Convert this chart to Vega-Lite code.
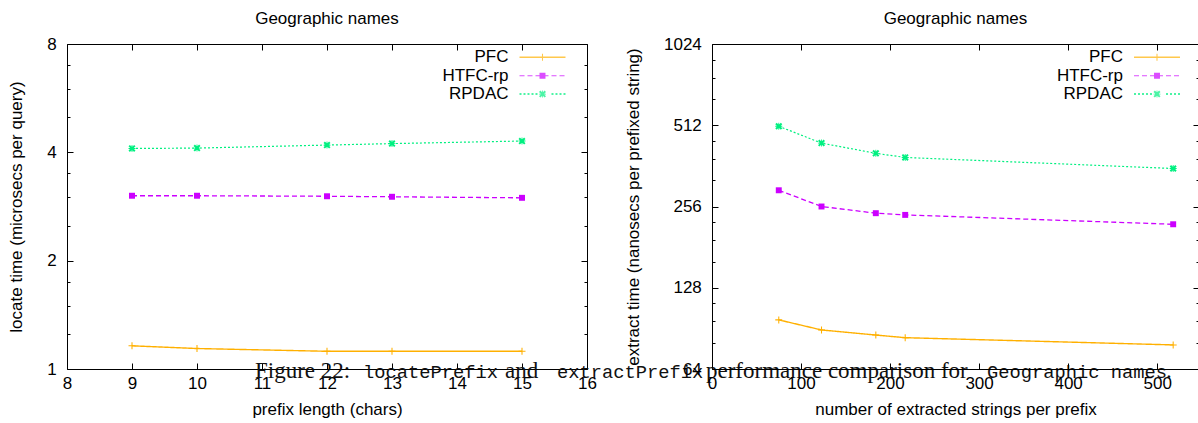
{
  "$schema": "https://vega.github.io/schema/vega-lite/v6.json",
  "padding": {"left": 7, "top": 10, "right": 0, "bottom": 0},
  "bounds": "flush",
  "spacing": 125,
  "config": {
    "font": "Liberation Sans",
    "view": {"stroke": null},
    "axis": {"grid": false, "domainColor": "black", "domainWidth": 1, "tickColor": "black", "tickWidth": 1, "labelColor": "black", "titleColor": "black", "labelFontSize": 17, "titleFontSize": 17, "titleFontWeight": "normal", "labelFont": "Liberation Sans", "titleFont": "Liberation Sans", "labelFlush": false, "labelOverlap": false, "labelBound": false},
    "legend": {"orient": "none", "title": null, "labelAlign": "right", "labelOffset": -42.5, "labelFontSize": 17, "labelFont": "Liberation Sans", "labelColor": "black", "symbolSize": 49, "symbolStrokeWidth": 0, "rowPadding": 0.4, "padding": 0},
    "title": {"fontSize": 17, "fontWeight": "normal", "font": "Liberation Sans", "color": "black", "anchor": "middle", "baseline": "alphabetic", "offset": 7}
  },
  "hconcat": [
    {
      "width": 520,
      "height": 325,
      "title": "Geographic names",
      "data": {"values": [
        {"len": 9, "series": "PFC", "time": 1.16},
        {"len": 10, "series": "PFC", "time": 1.14},
        {"len": 12, "series": "PFC", "time": 1.12},
        {"len": 13, "series": "PFC", "time": 1.12},
        {"len": 15, "series": "PFC", "time": 1.12},
        {"len": 9, "series": "HTFC-rp", "time": 3.03},
        {"len": 10, "series": "HTFC-rp", "time": 3.03},
        {"len": 12, "series": "HTFC-rp", "time": 3.02},
        {"len": 13, "series": "HTFC-rp", "time": 3.01},
        {"len": 15, "series": "HTFC-rp", "time": 2.99},
        {"len": 9, "series": "RPDAC", "time": 4.10},
        {"len": 10, "series": "RPDAC", "time": 4.11},
        {"len": 12, "series": "RPDAC", "time": 4.19},
        {"len": 13, "series": "RPDAC", "time": 4.23},
        {"len": 15, "series": "RPDAC", "time": 4.30}
      ]},
      "layer": [
        {
          "mark": {"type": "line"},
          "encoding": {
            "x": {"field": "len", "type": "quantitative", "scale": {"domain": [8, 16], "nice": false, "zero": false},
                  "axis": {"orient": "bottom", "values": [8, 9, 10, 11, 12, 13, 14, 15, 16], "title": "prefix length (chars)", "tickSize": -6, "labelPadding": 12.7, "titlePadding": 10}},
            "y": {"field": "time", "type": "quantitative", "scale": {"type": "log", "base": 2, "domain": [1, 8], "nice": false},
                  "axis": {"orient": "left", "values": [1, 2, 4, 8], "format": "d", "title": "locate time (microsecs per query)", "tickSize": -6, "labelPadding": 16.7, "titlePadding": 21}},
            "color": {"field": "series", "type": "nominal", "scale": {"domain": ["PFC", "HTFC-rp", "RPDAC"], "range": ["#ffb000", "#cc00ff", "#00f080"]}, "legend": null},
            "strokeDash": {"field": "series", "type": "nominal", "scale": {"domain": ["PFC", "HTFC-rp", "RPDAC"], "range": [[1, 0], [5, 3], [2, 2]]}, "legend": null},
            "strokeWidth": {"field": "series", "type": "nominal", "scale": {"domain": ["PFC", "HTFC-rp", "RPDAC"], "range": [1.4, 1.2, 2]}, "legend": null}
          }
        },
        {
          "mark": {"type": "point", "filled": true, "size": 49, "opacity": 1},
          "encoding": {
            "x": {"field": "len", "type": "quantitative", "axis": {"orient": "top", "values": [8, 9, 10, 11, 12, 13, 14, 15, 16], "labels": false, "title": null, "tickSize": -6}},
            "y": {"field": "time", "type": "quantitative", "axis": {"orient": "right", "values": [1, 2, 4, 8], "labels": false, "title": null, "tickSize": -6}},
            "color": {"field": "series", "type": "nominal", "legend": null},
            "shape": {"field": "series", "type": "nominal", "scale": {"domain": ["PFC", "HTFC-rp", "RPDAC"], "range": [
                        "M-1,-0.15H1V0.15H-1Z M-0.15,-1H0.15V1H-0.15Z",
                        "M-0.85,-0.85H0.85V0.85H-0.85Z",
                        "M-1,-0.6L-0.6,-1L1,0.6L0.6,1Z M0.6,-1L1,-0.6L-0.6,1L-1,0.6Z M-1,-0.12H1V0.12H-1Z M-0.12,-1H0.12V1H-0.12Z"]}, "legend": null}
          }
        },
        {
          "transform": [{"filter": "false"}],
          "mark": {"type": "point", "filled": true, "size": 49},
          "encoding": {
            "x": {"field": "len", "type": "quantitative", "axis": null},
            "y": {"field": "time", "type": "quantitative", "axis": null},
            "color": {"field": "series", "type": "nominal", "legend": {"legendX": 467, "legendY": 4.8}},
            "shape": {"field": "series", "type": "nominal", "scale": {"domain": ["PFC", "HTFC-rp", "RPDAC"], "range": [
                        "M-6.57,-0.21H6.57V0.21H-6.57Z M-1,-0.15H1V0.15H-1Z M-0.15,-1H0.15V1H-0.15Z",
                        "M-6.57,-0.15H-5.14V0.15H-6.57Z M-4.29,-0.15H-2.86V0.15H-4.29Z M-2,-0.15H-0.57V0.15H-2Z M0.29,-0.15H1.71V0.15H0.29Z M2.57,-0.15H4V0.15H2.57Z M4.86,-0.15H6.29V0.15H4.86Z M-0.85,-0.85H0.85V0.85H-0.85Z",
                        "M-6.57,-0.29H-6V0.29H-6.57Z M-5.43,-0.29H-4.86V0.29H-5.43Z M-4.29,-0.29H-3.72V0.29H-4.29Z M-3.14,-0.29H-2.57V0.29H-3.14Z M-2,-0.29H-1.43V0.29H-2Z M2.57,-0.29H3.14V0.29H2.57Z M3.71,-0.29H4.28V0.29H3.71Z M4.86,-0.29H5.43V0.29H4.86Z M6,-0.29H6.57V0.29H6Z M-1,-0.6L-0.6,-1L1,0.6L0.6,1Z M0.6,-1L1,-0.6L-0.6,1L-1,0.6Z M-1,-0.12H1V0.12H-1Z M-0.12,-1H0.12V1H-0.12Z"]},
                      "legend": {"legendX": 467, "legendY": 4.8}}
          }
        },
        {
          "mark": {"type": "point", "opacity": 0},
          "encoding": {"x": {"field": "len", "type": "quantitative", "axis": null}, "y": {"field": "time", "type": "quantitative", "axis": {"orient": "left", "values": [1.25, 1.5, 1.75, 2.5, 3, 3.5, 5, 6, 7], "labels": false, "title": null, "tickSize": -3, "domain": false}}}
        },
        {
          "mark": {"type": "point", "opacity": 0},
          "encoding": {"x": {"field": "len", "type": "quantitative", "axis": null}, "y": {"field": "time", "type": "quantitative", "axis": {"orient": "right", "values": [1.25, 1.5, 1.75, 2.5, 3, 3.5, 5, 6, 7], "labels": false, "title": null, "tickSize": -3, "domain": false}}}
        },
        {
          "data": {"values": [{}]},
          "mark": {"type": "text", "font": "Liberation Serif", "fontSize": 23, "align": "left", "baseline": "alphabetic", "dy": 8.6, "color": "#111111"},
          "encoding": {"x": {"datum": 10.892, "type": "quantitative", "axis": null}, "y": {"datum": 1, "type": "quantitative", "axis": null}, "text": {"value": "Figure 22:"}}
        },
        {
          "data": {"values": [{}]},
          "mark": {"type": "text", "font": "Liberation Mono", "fontSize": 18.75, "align": "left", "baseline": "alphabetic", "dy": 8.6, "color": "#111111"},
          "encoding": {"x": {"datum": 12.554, "type": "quantitative", "axis": null}, "y": {"datum": 1, "type": "quantitative", "axis": null}, "text": {"value": "locatePrefix"}}
        },
        {
          "data": {"values": [{}]},
          "mark": {"type": "text", "font": "Liberation Serif", "fontSize": 23, "align": "left", "baseline": "alphabetic", "dy": 8.6, "color": "#111111"},
          "encoding": {"x": {"datum": 14.738, "type": "quantitative", "axis": null}, "y": {"datum": 1, "type": "quantitative", "axis": null}, "text": {"value": "and"}}
        },
        {
          "data": {"values": [{}]},
          "mark": {"type": "text", "font": "Liberation Mono", "fontSize": 18.75, "align": "left", "baseline": "alphabetic", "dy": 8.6, "color": "#111111"},
          "encoding": {"x": {"datum": 15.538, "type": "quantitative", "axis": null}, "y": {"datum": 1, "type": "quantitative", "axis": null}, "text": {"value": "extractPrefix"}}
        },
        {
          "data": {"values": [{}]},
          "mark": {"type": "text", "font": "Liberation Serif", "fontSize": 23, "align": "left", "baseline": "alphabetic", "dy": 8.6, "color": "#111111"},
          "encoding": {"x": {"datum": 17.83, "type": "quantitative", "axis": null}, "y": {"datum": 1, "type": "quantitative", "axis": null}, "text": {"value": "performance comparison for"}}
        },
        {
          "data": {"values": [{}]},
          "mark": {"type": "text", "font": "Liberation Mono", "fontSize": 18.75, "align": "left", "baseline": "alphabetic", "dy": 8.6, "color": "#111111"},
          "encoding": {"x": {"datum": 22.154, "type": "quantitative", "axis": null}, "y": {"datum": 1, "type": "quantitative", "axis": null}, "text": {"value": "Geographic names"}}
        },
        {
          "data": {"values": [{}]},
          "mark": {"type": "text", "font": "Liberation Serif", "fontSize": 23, "align": "left", "baseline": "alphabetic", "dy": 8.6, "color": "#111111"},
          "encoding": {"x": {"datum": 24.908, "type": "quantitative", "axis": null}, "y": {"datum": 1, "type": "quantitative", "axis": null}, "text": {"value": "."}}
        }
      ],
      "resolve": {"axis": {"x": "independent", "y": "independent"}, "scale": {"shape": "independent"}, "legend": {"color": "independent", "shape": "independent"}}
    },
    {
      "width": 487,
      "height": 325,
      "title": "Geographic names",
      "data": {"values": [
        {"n": 75, "series": "PFC", "time": 97.3},
        {"n": 123, "series": "PFC", "time": 89.3},
        {"n": 184, "series": "PFC", "time": 85.5},
        {"n": 217, "series": "PFC", "time": 83.6},
        {"n": 518, "series": "PFC", "time": 78.6},
        {"n": 75, "series": "HTFC-rp", "time": 294},
        {"n": 123, "series": "HTFC-rp", "time": 256},
        {"n": 184, "series": "HTFC-rp", "time": 241.8},
        {"n": 217, "series": "HTFC-rp", "time": 238.3},
        {"n": 518, "series": "HTFC-rp", "time": 220},
        {"n": 75, "series": "RPDAC", "time": 507.6},
        {"n": 123, "series": "RPDAC", "time": 439.6},
        {"n": 184, "series": "RPDAC", "time": 403},
        {"n": 217, "series": "RPDAC", "time": 389},
        {"n": 518, "series": "RPDAC", "time": 354}
      ]},
      "layer": [
        {
          "mark": {"type": "line"},
          "encoding": {
            "x": {"field": "n", "type": "quantitative", "scale": {"domain": [0, 547], "nice": false, "zero": false},
                  "axis": {"orient": "bottom", "values": [0, 100, 200, 300, 400, 500], "title": "number of extracted strings per prefix", "tickSize": -6, "labelPadding": 12.7, "titlePadding": 10}},
            "y": {"field": "time", "type": "quantitative", "scale": {"type": "log", "base": 2, "domain": [64, 1024], "nice": false},
                  "axis": {"orient": "left", "values": [64, 128, 256, 512, 1024], "format": "d", "title": "extract time (nanosecs per prefixed string)", "tickSize": -6, "labelPadding": 16.7, "titlePadding": 21}},
            "color": {"field": "series", "type": "nominal", "scale": {"domain": ["PFC", "HTFC-rp", "RPDAC"], "range": ["#ffb000", "#cc00ff", "#00f080"]}, "legend": null},
            "strokeDash": {"field": "series", "type": "nominal", "scale": {"domain": ["PFC", "HTFC-rp", "RPDAC"], "range": [[1, 0], [5, 3], [2, 2]]}, "legend": null},
            "strokeWidth": {"field": "series", "type": "nominal", "scale": {"domain": ["PFC", "HTFC-rp", "RPDAC"], "range": [1.4, 1.2, 2]}, "legend": null}
          }
        },
        {
          "mark": {"type": "point", "filled": true, "size": 49, "opacity": 1},
          "encoding": {
            "x": {"field": "n", "type": "quantitative", "axis": {"orient": "top", "values": [0, 100, 200, 300, 400, 500], "labels": false, "title": null, "tickSize": -6}},
            "y": {"field": "time", "type": "quantitative", "axis": {"orient": "right", "values": [64, 128, 256, 512, 1024], "labels": false, "title": null, "tickSize": -6, "domain": false}},
            "color": {"field": "series", "type": "nominal", "legend": null},
            "shape": {"field": "series", "type": "nominal", "scale": {"domain": ["PFC", "HTFC-rp", "RPDAC"], "range": [
                        "M-1,-0.15H1V0.15H-1Z M-0.15,-1H0.15V1H-0.15Z",
                        "M-0.85,-0.85H0.85V0.85H-0.85Z",
                        "M-1,-0.6L-0.6,-1L1,0.6L0.6,1Z M0.6,-1L1,-0.6L-0.6,1L-1,0.6Z M-1,-0.12H1V0.12H-1Z M-0.12,-1H0.12V1H-0.12Z"]}, "legend": null}
          }
        },
        {
          "transform": [{"filter": "false"}],
          "mark": {"type": "point", "filled": true, "size": 49},
          "encoding": {
            "x": {"field": "n", "type": "quantitative", "axis": null},
            "y": {"field": "time", "type": "quantitative", "axis": null},
            "color": {"field": "series", "type": "nominal", "legend": {"legendX": 436.5, "legendY": 4.8}},
            "shape": {"field": "series", "type": "nominal", "scale": {"domain": ["PFC", "HTFC-rp", "RPDAC"], "range": [
                        "M-6.57,-0.21H6.57V0.21H-6.57Z M-1,-0.15H1V0.15H-1Z M-0.15,-1H0.15V1H-0.15Z",
                        "M-6.57,-0.15H-5.14V0.15H-6.57Z M-4.29,-0.15H-2.86V0.15H-4.29Z M-2,-0.15H-0.57V0.15H-2Z M0.29,-0.15H1.71V0.15H0.29Z M2.57,-0.15H4V0.15H2.57Z M4.86,-0.15H6.29V0.15H4.86Z M-0.85,-0.85H0.85V0.85H-0.85Z",
                        "M-6.57,-0.29H-6V0.29H-6.57Z M-5.43,-0.29H-4.86V0.29H-5.43Z M-4.29,-0.29H-3.72V0.29H-4.29Z M-3.14,-0.29H-2.57V0.29H-3.14Z M-2,-0.29H-1.43V0.29H-2Z M2.57,-0.29H3.14V0.29H2.57Z M3.71,-0.29H4.28V0.29H3.71Z M4.86,-0.29H5.43V0.29H4.86Z M6,-0.29H6.57V0.29H6Z M-1,-0.6L-0.6,-1L1,0.6L0.6,1Z M0.6,-1L1,-0.6L-0.6,1L-1,0.6Z M-1,-0.12H1V0.12H-1Z M-0.12,-1H0.12V1H-0.12Z"]},
                      "legend": {"legendX": 436.5, "legendY": 4.8}}
          }
        },
        {
          "mark": {"type": "point", "opacity": 0},
          "encoding": {"x": {"field": "n", "type": "quantitative", "axis": null}, "y": {"field": "time", "type": "quantitative", "axis": {"orient": "left", "values": [80, 96, 112, 160, 192, 224, 320, 384, 448, 640, 768, 896], "labels": false, "title": null, "tickSize": -3, "domain": false}}}
        },
        {
          "mark": {"type": "point", "opacity": 0},
          "encoding": {"x": {"field": "n", "type": "quantitative", "axis": null}, "y": {"field": "time", "type": "quantitative", "axis": {"orient": "right", "values": [80, 96, 112, 160, 192, 224, 320, 384, 448, 640, 768, 896], "labels": false, "title": null, "tickSize": -3, "domain": false}}}
        }
      ],
      "resolve": {"axis": {"x": "independent", "y": "independent"}, "scale": {"shape": "independent"}, "legend": {"color": "independent", "shape": "independent"}}
    }
  ],
  "resolve": {"scale": {"color": "independent", "shape": "independent", "strokeDash": "independent", "strokeWidth": "independent"}, "legend": {"color": "independent", "shape": "independent"}}
}
